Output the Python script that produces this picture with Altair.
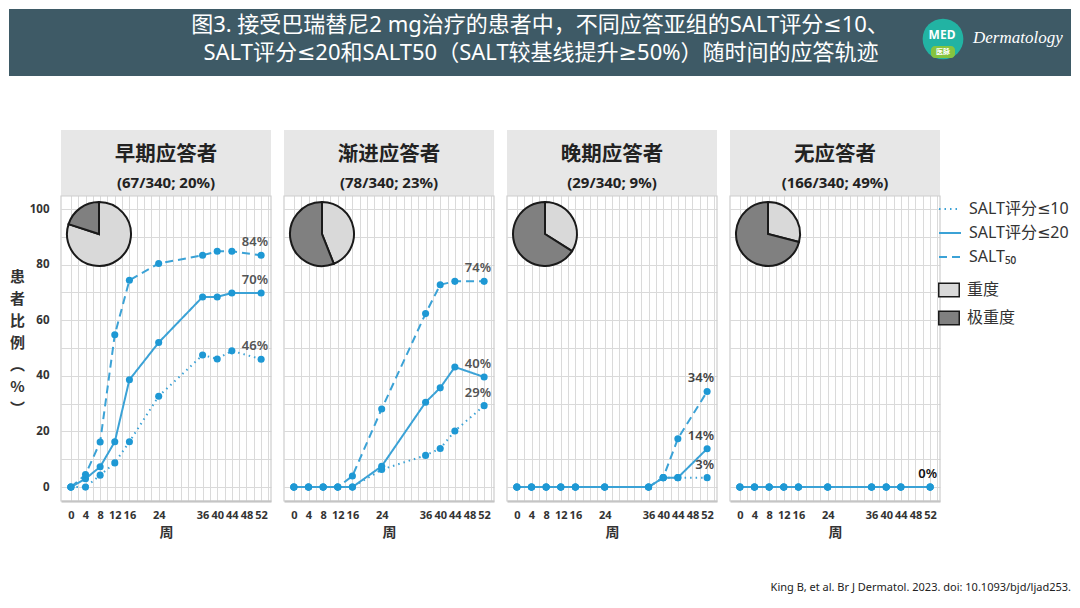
import altair as alt
import pandas as pd

# ---------------- data ----------------
weeks = [0, 4, 8, 12, 16, 24, 36, 40, 44, 52]
x_tick_labels = [0, 4, 8, 12, 16, 24, 36, 40, 44, 48, 52]
y_tick_labels = [0, 20, 40, 60, 80, 100]
x_grid = list(range(0, 55, 2))
y_grid = list(range(0, 101, 10))

series_names = ["SALT评分≤10", "SALT评分≤20", "SALT₅₀"]
severity_names = ["重度", "极重度"]

group_names = ["早期应答者", "渐进应答者", "晚期应答者", "无应答者"]
group_counts = ["(67/340; 20%)", "(78/340; 23%)", "(29/340; 9%)", "(166/340; 49%)"]

early_salt10 = [0, 0, 4.3, 8.7, 16.3, 32.7, 47.5, 46.1, 49.0, 46.0]
early_salt20 = [0, 3.0, 7.3, 16.3, 38.6, 52.0, 68.4, 68.4, 69.8, 69.8]
early_salt50 = [0, 4.5, 16.2, 54.8, 74.4, 80.4, 83.4, 84.8, 84.8, 83.4]

gradual_salt10 = [0, 0, 0, 0, 0, 6.3, 11.4, 13.9, 20.2, 29.3]
gradual_salt20 = [0, 0, 0, 0, 0, 7.5, 30.5, 35.7, 43.2, 39.6]
gradual_salt50 = [0, 0, 0, 0, 4.0, 28.1, 62.4, 72.8, 74.0, 74.0]

late_salt10 = [0, 0, 0, 0, 0, 0, 0, 3.4, 3.4, 3.4]
late_salt20 = [0, 0, 0, 0, 0, 0, 0, 3.4, 3.4, 13.8]
late_salt50 = [0, 0, 0, 0, 0, 0, 0, 3.4, 17.4, 34.4]

non_salt10 = [0, 0, 0, 0, 0, 0, 0, 0, 0, 0]
non_salt20 = [0, 0, 0, 0, 0, 0, 0, 0, 0, 0]
non_salt50 = [0, 0, 0, 0, 0, 0, 0, 0, 0, 0]

end_labels_early = ["46%", "70%", "84%"]
end_labels_gradual = ["29%", "40%", "74%"]
end_labels_late = ["3%", "14%", "34%"]
end_labels_non = ["", "", "0%"]

severe_share = [80, 44, 34, 29]
very_severe_share = [20, 56, 66, 71]

title_line1 = "图3. 接受巴瑞替尼2 mg治疗的患者中，不同应答亚组的SALT评分≤10、"
title_line2 = "SALT评分≤20和SALT50（SALT较基线提升≥50%）随时间的应答轨迹"
footer_text = "King B, et al. Br J Dermatol. 2023. doi: 10.1093/bjd/ljad253."

panel_series = [
    [early_salt10, early_salt20, early_salt50],
    [gradual_salt10, gradual_salt20, gradual_salt50],
    [late_salt10, late_salt20, late_salt50],
    [non_salt10, non_salt20, non_salt50],
]
panel_labels = [end_labels_early, end_labels_gradual, end_labels_late, end_labels_non]
label_colors = ["#555555", "#555555", "#444444", "#111111"]

# ---------------- style ----------------
CJK = "Noto Sans CJK SC"
MIX = "Noto Sans, DejaVu Sans, Noto Sans CJK SC"
LAT = "Noto Sans"
LINE = "#3ba2d6"
PT = "#1e98d4"
GRID = "#dadada"
HDR = "#e7e7e7"
BANNER = "#3e5a66"
LIGHT = "#d9d9d9"
DARK = "#808080"

W = 210
PLOT_H = 305
HDR_H = 66
TOT_H = PLOT_H + HDR_H
Y_LO = -5.0
Y_TOP_PLOT = 104.7
Y_HI = Y_LO + (Y_TOP_PLOT - Y_LO) * TOT_H / PLOT_H

# origin of the whole drawing = left edge of the first plot (page x ~60)
LEFT = -52          # page x 8
RIGHT = 1010        # page x ~1070

one = pd.DataFrame({"k": [0]})

x_label_expr = f"indexof({x_tick_labels}, datum.value) >= 0 ? datum.label : ''"
y_label_expr = f"indexof({y_tick_labels}, datum.value) >= 0 ? datum.label : ''"

x_axis = alt.Axis(
    values=x_grid, labelExpr=x_label_expr, grid=True, gridColor=GRID, gridWidth=1,
    ticks=False, domain=True, domainColor="#bcbcbc", domainWidth=2,
    labelFont=LAT, labelFontSize=11, labelFontWeight="bold", labelColor="#333333",
    labelPadding=8, labelOverlap=False, labelFlush=False,
    title="周", titleFont=CJK, titleFontSize=14, titleFontWeight="bold",
    titleColor="#333333", titlePadding=5,
)


def y_axis(first):
    if first:
        return alt.Axis(
            values=y_grid, labelExpr=y_label_expr, grid=True, gridColor=GRID, gridWidth=1,
            ticks=False, domain=False, labelFont=LAT, labelFontSize=11.5,
            labelFontWeight="bold", labelColor="#333333", labelPadding=12,
            title=["患", "者", "比", "例", "︵", "%", "︶"], titleAngle=0,
            titleX=-44, titleY=139, titleBaseline="top", titleAlign="center",
            titleFont=CJK, titleFontSize=15, titleFontWeight="bold",
            titleColor="#333333", titleLineHeight=22,
        )
    return alt.Axis(values=y_grid, grid=True, gridColor=GRID, gridWidth=1,
                    labels=False, ticks=False, domain=False, title="")


dash_legend = alt.Legend(
    title=None, orient="none", legendX=877, legendY=188, symbolType="stroke",
    symbolSize=484, symbolStrokeWidth=2, symbolStrokeColor=LINE,
    labelFont=MIX, labelFontSize=16, labelColor="#333333", labelOffset=7,
    rowPadding=4, padding=0,
)
fill_legend = alt.Legend(
    title=None, orient="none", legendX=877, legendY=270,
    symbolType="M-1,-0.65L1,-0.65L1,0.65L-1,0.65Z", symbolSize=420,
    symbolStrokeColor="#1a1a1a", symbolStrokeWidth=1.5,
    labelFont=MIX, labelFontSize=16, labelColor="#333333", labelOffset=7,
    rowPadding=7, padding=0,
)


def panel(i):
    rows = []
    for s_name, vals in zip(series_names, panel_series[i]):
        for w, v in zip(weeks, vals):
            rows.append({"week": w, "value": v, "series": s_name})
    df = pd.DataFrame(rows)
    lab = pd.DataFrame({
        "week": [weeks[-1]] * 3,
        "value": [vals[-1] for vals in panel_series[i]],
        "label": panel_labels[i],
    })
    lab = lab[lab["label"] != ""]
    pie_df = pd.DataFrame({
        "severity": severity_names,
        "share": [severe_share[i], very_severe_share[i]],
        "ord": [0, 1],
    })

    X = alt.X("week:Q", scale=alt.Scale(domain=[-2.7, 54.7], nice=False, zero=False), axis=x_axis)
    Y = alt.Y("value:Q", scale=alt.Scale(domain=[Y_LO, Y_HI], nice=False, zero=False), axis=y_axis(i == 0))

    base_one = alt.Chart(one)
    header = base_one.mark_rect(color=HDR).encode(
        x=alt.value(0), x2=alt.value(W), y=alt.value(0), y2=alt.value(HDR_H))
    border = base_one.mark_rect(filled=False, stroke="#cdcdcd", strokeWidth=1.2).encode(
        x=alt.value(0), x2=alt.value(W), y=alt.value(HDR_H), y2=alt.value(TOT_H))
    h1 = base_one.mark_text(font=CJK, fontSize=20.5, fontWeight="bold", color="#222222").encode(
        x=alt.value(W / 2), y=alt.value(25), text=alt.value(group_names[i]))
    h2 = base_one.mark_text(font=LAT, fontSize=15, fontWeight="bold", color="#222222").encode(
        x=alt.value(W / 2), y=alt.value(53), text=alt.value(group_counts[i]))

    lines = alt.Chart(df).mark_line(strokeWidth=2, color=LINE).encode(
        x=X, y=Y,
        strokeDash=alt.StrokeDash(
            "series:N",
            scale=alt.Scale(domain=series_names, range=[[1.5, 4], [1, 0], [8, 5]]),
            legend=dash_legend,
        ),
    )
    pts = alt.Chart(df).mark_circle(size=50, color=PT, opacity=1).encode(x=X, y=Y)
    labels = alt.Chart(lab).mark_text(
        align="right", baseline="middle", dx=7, dy=-13, font=LAT, fontSize=13,
        fontWeight=600, color=label_colors[i]).encode(x=X, y=Y, text="label:N")
    pie = alt.Chart(pie_df).mark_arc(radius=32, stroke="#1a1a1a", strokeWidth=2).encode(
        theta=alt.Theta("share:Q", stack=True),
        order=alt.Order("ord:Q"),
        fill=alt.Fill("severity:N", scale=alt.Scale(domain=severity_names, range=[LIGHT, DARK]),
                      legend=fill_legend),
        x=alt.value(38), y=alt.value(HDR_H + 38),
    )
    return alt.layer(header, border, lines, pts, labels, pie, h1, h2).properties(
        width=W, height=TOT_H, view=alt.ViewBackground(stroke="transparent"))


middle = alt.hconcat(*[panel(i) for i in range(4)], spacing=9).resolve_scale(
    strokeDash="shared", fill="shared")

# banner (coordinates relative to the first plot's left edge)
b = alt.Chart(one)
banner = alt.layer(
    b.mark_rect(color=BANNER).encode(x=alt.value(LEFT), x2=alt.value(RIGHT), y=alt.value(0), y2=alt.value(67)),
    b.mark_text(font=MIX, fontSize=22, color="white").encode(
        x=alt.value(479), y=alt.value(16), text=alt.value(title_line1)),
    b.mark_text(font=MIX, fontSize=22, color="white").encode(
        x=alt.value(480), y=alt.value(44), text=alt.value(title_line2)),
    b.mark_circle(size=1660, color="#22b3a3", opacity=1).encode(x=alt.value(882), y=alt.value(30)),
    b.mark_rect(color="#86c440", cornerRadius=4).encode(
        x=alt.value(870), x2=alt.value(894), y=alt.value(37), y2=alt.value(49)),
    b.mark_text(font=LAT, fontSize=12, fontWeight="bold", color="white").encode(
        x=alt.value(881), y=alt.value(26), text=alt.value("MED")),
    b.mark_text(font=CJK, fontSize=7, fontWeight="bold", color="white").encode(
        x=alt.value(882), y=alt.value(43), text=alt.value("医脉")),
    b.mark_text(font="Liberation Serif", fontSize=17, fontStyle="italic", color="white", align="left").encode(
        x=alt.value(912), y=alt.value(29), text=alt.value("Dermatology")),
).properties(width=RIGHT, height=119, view=alt.ViewBackground(stroke="transparent"))

footer = alt.Chart(one).mark_text(
    font=LAT, fontSize=11, color="#222222", align="right", baseline="bottom").encode(
    x=alt.value(RIGHT), y=alt.value(52), text=alt.value(footer_text)
).properties(width=RIGHT, height=52, view=alt.ViewBackground(stroke="transparent"))

chart = alt.vconcat(banner, middle, footer, spacing=0).properties(
    padding=0, background="white")

chart.save("out.html", embed_options={"renderer": "svg", "actions": False})
